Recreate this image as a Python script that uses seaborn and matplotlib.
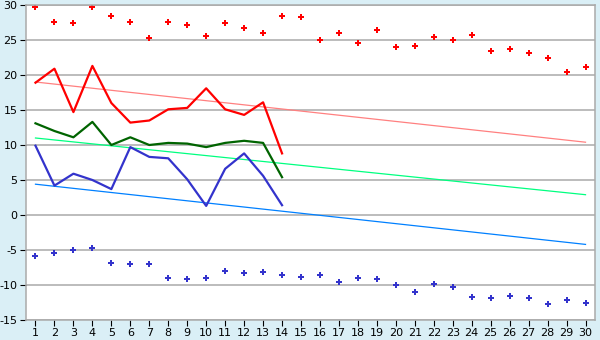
import matplotlib
matplotlib.use("Agg")
import matplotlib.pyplot as plt
import seaborn as sns
import pandas as pd
import numpy as np

plt.rcParams["axes.unicode_minus"] = False

days = list(range(1, 31))
days_obs = list(range(1, 15))

max_points = [29.7, 27.6, 27.4, 29.7, 28.4, 27.6, 25.3, 27.6, 27.1, 25.6,
              27.4, 26.7, 26.0, 28.4, 28.3, 25.0, 26.0, 24.6, 26.4, 24.0,
              24.1, 25.4, 25.0, 25.7, 23.4, 23.7, 23.1, 22.4, 20.4, 21.1]
min_points = [-5.9, -5.4, -5.0, -4.7, -6.9, -7.0, -7.0, -9.0, -9.1, -9.0,
              -8.0, -8.3, -8.1, -8.6, -8.9, -8.6, -9.6, -9.0, -9.1, -10.0,
              -11.0, -9.9, -10.3, -11.7, -11.9, -11.6, -11.9, -12.7, -12.1, -12.6]

max_obs = [18.9, 20.9, 14.7, 21.3, 16.0, 13.2, 13.5, 15.1, 15.3, 18.1,
           15.1, 14.3, 16.1, 8.8]
mean_obs = [13.1, 12.0, 11.1, 13.3, 10.0, 11.1, 10.0, 10.3, 10.2, 9.7,
            10.3, 10.6, 10.3, 5.4]
min_obs = [9.9, 4.2, 5.9, 5.0, 3.7, 9.7, 8.3, 8.1, 5.1, 1.3,
           6.6, 8.8, 5.6, 1.4]

trend_days = [1, 30]
max_normal = [19.0, 10.4]
mean_normal = [11.0, 2.9]
min_normal = [4.4, -4.2]

yticks = list(range(-15, 31, 5))

bg = "#DAEFF6"
fig = plt.figure(figsize=(6, 3.4), dpi=100, facecolor=bg)
ax = fig.add_axes([26/600, 1-320/340, (595-26)/600, (320-5)/340])
ax.set_facecolor("white")

for v in yticks:
    ax.axhline(v, color="#AAAAAA", lw=1.1, zorder=0)

sns.lineplot(x=trend_days, y=max_normal, ax=ax, color="#FF8080", lw=0.9)
sns.lineplot(x=trend_days, y=mean_normal, ax=ax, color="#00FF80", lw=0.9)
sns.lineplot(x=trend_days, y=min_normal, ax=ax, color="#0080FF", lw=0.9)

sns.lineplot(x=days_obs, y=max_obs, ax=ax, color="#FF0000", lw=1.6)
sns.lineplot(x=days_obs, y=mean_obs, ax=ax, color="#006400", lw=1.6)
sns.lineplot(x=days_obs, y=min_obs, ax=ax, color="#3333CC", lw=1.6)

sns.scatterplot(x=days, y=max_points, ax=ax, color="#FF0000", marker="P", s=20, linewidth=0)
sns.scatterplot(x=days, y=min_points, ax=ax, color="#3333CC", marker="P", s=20, linewidth=0)

ax.set_xlim(0.5, 30.5)
ax.set_ylim(-15, 30)
ax.set_xticks(days)
ax.set_yticks(yticks)
ax.tick_params(axis="both", labelsize=8, length=4, color="black", pad=2)
for s in ["top", "right", "left", "bottom"]:
    ax.spines[s].set_color("#AAAAAA")
    ax.spines[s].set_linewidth(1.1)
ax.set_xlabel("")
ax.set_ylabel("")
fig.savefig("out.png", dpi=100, facecolor=bg)
